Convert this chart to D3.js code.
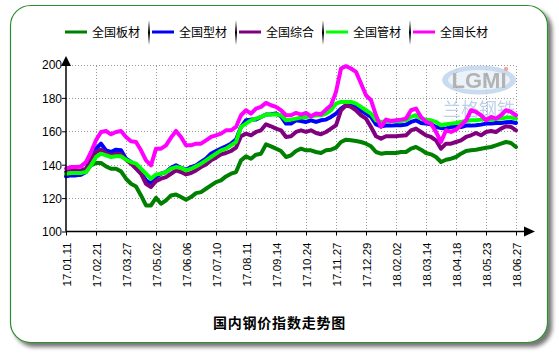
<!DOCTYPE html>
<html><head><meta charset="utf-8">
<script src="https://cdn.jsdelivr.net/npm/d3@7/dist/d3.min.js"></script>
<style>
html,body{margin:0;padding:0;background:#fff;}
svg{display:block;}
</style></head>
<body>
<svg id="chart" width="559" height="353"></svg>
<script>
const xLabels = ["17.01.11","17.02.21","17.03.27","17.05.02","17.06.06","17.07.10","17.08.11","17.09.14","17.10.24","17.11.27","17.12.29","18.02.02","18.03.14","18.04.18","18.05.23","18.06.27"];
const yTicks = [100,120,140,160,180,200];
const seriesNames = ["全国板材","全国型材","全国综合","全国管材","全国长材"];
const seriesColors = ["#008000","#0000ff","#800080","#00ff00","#ff00ff"];

const plate = [134.6,134.6,134.6,135,136.6,139.6,141,141,139,137.6,137.6,136,131.6,128.6,127,121.6,115.6,115.6,120.2,116.6,118.6,121.6,122.2,120.6,119,120.6,123,123.6,125.6,127.6,129.6,130.6,133,134.6,135.6,142.6,145,143.6,146,146.6,152.2,151,149.6,148.2,144.6,145.6,148.2,
149.6,148.6,148.6,147.6,147,148.6,149,150.2,153.6,155,154.6,154.2,153.6,152.6,151,147.6,146.6,147,147,147,147.6,147.6,149.6,150.6,149,147,146.2,144.6,141.6,143,143.6,144.6,146.6,148.2,148.6,149,149.6,150.2,150.6,151.6,152.6,153.6,153,150.6];
const section = [133,133.6,133.6,134,135.6,140.6,149.6,152.6,148.6,147.6,149,148.6,143.6,141.6,138.6,135,130.6,128.6,132.6,134.6,135.6,138.2,139.6,138.2,137,138.6,139.6,141.6,143.6,146.6,148.2,149.6,151,152.6,155,162.6,166.6,167,167,168.6,170,170.2,170.6,169,164.6,164.6,166.6,
166.2,165.6,166.6,165.6,166.6,167,168.6,170.6,173.6,175.6,175.6,174.6,172.6,170.6,168.6,164.2,163,163.4,163.4,163.6,163.6,164,165.6,166.6,165,164.6,164.2,162.6,162,161.6,162.6,163,162.6,163.4,163.4,163.6,164,164.6,164.6,165,165,165.4,165.6,165];
const overall = [135.6,136.6,136.6,136.6,137.6,143.6,147.6,149,147,145.6,146.6,146.2,143,140.6,137.6,134.6,128.6,126.6,130.2,131.6,132.6,134.6,136.6,135.6,134.2,135,136.6,138.6,140.2,142.6,144.2,146.2,147,148.2,150.2,157,158.6,157.6,159.6,160.6,164.2,163,161.6,160.6,156.6,157,159.6,
160.6,159.6,160.6,159,158.2,159.6,161.6,163.6,172.6,175.6,174.6,172.6,169.6,167.6,162.6,157,155.6,157,157,157,157.4,157.6,160.6,161.6,159.6,157.6,156.6,154.6,149.6,152.6,152.6,153.6,154.6,156.6,157.6,159,157.6,159.6,160.2,159.6,161.6,163,162.6,160.6];
const pipe = [134.6,135,135,135,135.6,139.6,144.6,146.6,145.6,144.6,145,145,143,141.6,140.6,137.6,134.6,131.6,134.2,134.6,135.6,137.6,138.6,138.2,136.6,137.6,139,140.6,142.6,144.6,146.6,148.6,149.6,151.6,153.6,162.6,164.6,166.6,167.6,168.6,170,170,170.2,169.6,166.6,167,167.6,
168.2,168.6,169,169.6,169.6,170.6,172.6,176.6,177.6,177.6,177.6,176.6,174.6,172.6,170.6,166.6,165.6,166,166,166.2,166.2,166.6,168.6,169.6,167.6,167,166.6,165.6,163.6,164.2,164.6,165,165.6,166.2,166.6,166.6,167,167,167,167.4,167.6,168.2,168.2,167.6];
const longProd = [137.6,138.6,138.6,139,141.6,147.6,154.6,159.6,160.2,158.2,159.6,160.2,156.6,154,153.6,148.6,142.6,139.6,149.6,149.6,151.6,156.2,160.2,156.6,151.6,151.6,152.6,152.6,154.6,156.6,157.6,158.6,160.6,160.6,162.6,169.6,172.6,170.6,173.6,174.6,177,175.6,174.6,172.6,169.6,169.6,171,
170,171,169,170.6,170.2,173,175.6,183.6,197.6,199,197.6,195.6,188.6,181.6,178.6,169.6,162.6,167,166.2,166.6,167,167.6,172.6,173.6,168.6,165.6,164.6,159.6,153.6,160.6,159.6,161,163.6,166.6,172.6,171.6,169.6,166.6,168.6,167.6,169.6,172.6,171.6,169.6];

const allSeries = [plate, section, overall, pipe, longProd];

const svg = d3.select("#chart");
const defs = svg.append("defs");
const f = defs.append("filter").attr("id","sh").attr("x","-5%").attr("y","-5%").attr("width","115%").attr("height","115%");
f.append("feGaussianBlur").attr("in","SourceAlpha").attr("stdDeviation",2.2).attr("result","b");
f.append("feOffset").attr("in","b").attr("dx",4).attr("dy",4).attr("result","o");
f.append("feComponentTransfer").attr("in","o").attr("result","o2").append("feFuncA").attr("type","linear").attr("slope",0.55);
const m = f.append("feMerge"); m.append("feMergeNode").attr("in","o2"); m.append("feMergeNode").attr("in","SourceGraphic");

const sg = defs.append("linearGradient").attr("id","sep").attr("x1",0).attr("y1",0).attr("x2",0).attr("y2",1);
sg.append("stop").attr("offset","0%").attr("stop-color","#fff");
sg.append("stop").attr("offset","50%").attr("stop-color","#000");
sg.append("stop").attr("offset","100%").attr("stop-color","#fff");

// card
svg.append("rect").attr("x",10.5).attr("y",5.5).attr("width",537).attr("height",337).attr("rx",20).attr("ry",20)
  .attr("fill","#fff").attr("stroke","#2e8b2e").attr("stroke-width",1.2).attr("filter","url(#sh)");

const x = d3.scaleLinear().domain([0, 90]).range([66, 516]);
const y = d3.scaleLinear().domain([100, 200]).range([231.5, 64.5]);
const tickIdx = d3.range(0, 91, 6);

// grid
const grid = svg.append("g").attr("stroke","#999").attr("stroke-width",1).attr("stroke-dasharray","1,2").attr("shape-rendering","crispEdges");
yTicks.filter(v => v > 100).forEach(v => {
  grid.append("line").attr("x1",x(0)).attr("x2",x(90)).attr("y1",Math.round(y(v))+0.5).attr("y2",Math.round(y(v))+0.5);
});
tickIdx.filter(i => i > 0).forEach(i => {
  grid.append("line").attr("x1",Math.round(x(i))+0.5).attr("x2",Math.round(x(i))+0.5).attr("y1",y(100)).attr("y2",y(200));
});

// watermark
const wm = svg.append("g").attr("opacity",0.75);
wm.append("ellipse").attr("cx",479).attr("cy",80).attr("rx",37).attr("ry",14.5).attr("fill","#b9cfeb");
wm.append("ellipse").attr("cx",479).attr("cy",80).attr("rx",31).attr("ry",10).attr("fill","#e6eef8");
wm.append("text").attr("x",479).attr("y",88).attr("text-anchor","middle").attr("font-family","Liberation Sans, Arial, sans-serif")
  .attr("font-size",22).attr("font-weight","bold").attr("fill","#9a9a9a").text("LGMI");
wm.append("circle").attr("cx",506).attr("cy",69).attr("r",2.2).attr("fill","#e88");
wm.append("text").attr("x",479).attr("y",116).attr("text-anchor","middle").attr("font-family","Noto Sans CJK SC, sans-serif")
  .attr("font-size",18).attr("fill","#a9c1e3").text("兰格钢铁");

// lines
const line = d3.line().x((d,i) => x(i)).y(d => y(d)).curve(d3.curveLinear);
allSeries.forEach((s, k) => {
  svg.append("path").datum(s).attr("d", line).attr("fill","none").attr("stroke",seriesColors[k])
    .attr("stroke-width",4).attr("stroke-linejoin","round").attr("stroke-linecap","round");
});

// axes
const xAxis = d3.axisBottom(x).tickValues(tickIdx).tickSize(4).tickFormat(i => xLabels[i/6]);
const gx = svg.append("g").attr("transform",`translate(0,${y(100)})`).call(xAxis);
gx.select(".domain").attr("d",`M${x(0)},0H526`).attr("stroke","#000").attr("stroke-width",1.5);
gx.selectAll(".tick line").attr("stroke","#000");
gx.selectAll(".tick text").attr("font-family","Liberation Sans, Arial, sans-serif").attr("font-size",11.5).attr("fill","#000")
  .attr("text-anchor","end").attr("transform","rotate(-90)").attr("x",-11).attr("y",0).attr("dy","0.36em");

const yAxis = d3.axisLeft(y).tickValues(yTicks).tickSize(4).tickFormat(d3.format("d"));
const gy = svg.append("g").attr("transform",`translate(${x(0)},0)`).call(yAxis);
gy.select(".domain").attr("d",`M0,${y(100)}V62`).attr("stroke","#000").attr("stroke-width",1.5);
gy.selectAll(".tick line").attr("stroke","#000");
gy.selectAll(".tick text").attr("font-family","Liberation Sans, Arial, sans-serif").attr("font-size",12).attr("fill","#000").attr("x",-4).attr("dy","0.36em");

// arrows
svg.append("path").attr("d",`M${x(0)-5},${66}L${x(0)},${56}L${x(0)+5},${66}Z`).attr("fill","#000");
svg.append("path").attr("d",`M524,${y(100)-5}L535,${y(100)}L524,${y(100)+5}Z`).attr("fill","#000");

// legend
const legX = [65, 152, 239, 326, 413];
const leg = svg.append("g");
seriesNames.forEach((n, k) => {
  leg.append("line").attr("x1",legX[k]).attr("x2",legX[k]+22).attr("y1",32).attr("y2",32).attr("stroke",seriesColors[k]).attr("stroke-width",3);
  leg.append("text").attr("x",legX[k]+27).attr("y",36.5).attr("font-family","Noto Sans CJK SC, sans-serif").attr("font-size",12).attr("fill","#000").text(n);
  if (k > 0) leg.append("rect").attr("x",legX[k]-4).attr("y",20).attr("width",2).attr("height",25).attr("fill","url(#sep)");
});

// title
svg.append("text").attr("x",279.5).attr("y",327.5).attr("text-anchor","middle").attr("font-family","Noto Sans CJK SC, sans-serif")
  .attr("font-size",14).attr("font-weight","bold").attr("letter-spacing",0.8).attr("fill","#000").text("国内钢价指数走势图");
</script>
</body></html>
